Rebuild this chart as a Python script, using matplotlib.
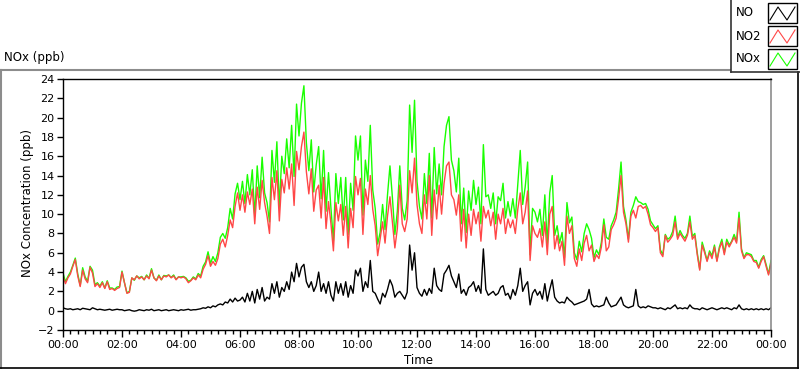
import numpy as np
import matplotlib
matplotlib.use("Agg")
import matplotlib.pyplot as plt
from matplotlib.lines import Line2D
from matplotlib.patches import Rectangle
from matplotlib.ticker import MultipleLocator, FuncFormatter

# mesures toutes les 5 minutes, de 00:00 a 00:00 (ppb)
pas_minutes = 5

no2_ppb = [
    3.6, 2.8, 3.4, 3.8, 4.6, 5.3, 3.6, 2.5, 4.2, 3.3,
    2.9, 4.5, 3.9, 2.5, 2.8, 2.4, 2.9, 2.3, 3.0, 2.2,
    2.3, 2.1, 2.3, 2.4, 4.0, 2.9, 1.8, 1.9, 3.4, 3.2,
    3.6, 3.3, 3.5, 3.2, 3.6, 3.3, 4.2, 3.4, 3.1, 3.6,
    3.2, 3.6, 3.5, 3.7, 3.4, 3.6, 3.2, 3.5,
    3.4, 3.5, 3.3, 2.9, 3.1, 3.4, 3.2, 3.7, 3.4, 4.3,
    4.8, 5.7, 4.6, 5.1, 4.7, 5.4, 6.9, 7.4, 6.6, 7.8,
    9.4, 8.6, 10.8, 12.2, 10.4, 12.0, 10.2, 12.3, 11.0, 12.6,
    9.0, 12.8, 10.5, 13.5, 11.2, 9.8, 8.0, 13.8, 11.5, 14.5,
    9.3, 13.6, 12.2, 14.8, 12.6, 15.2, 10.9, 16.5,
    14.6, 17.0, 18.5, 14.4, 12.1, 14.7, 10.3, 12.5, 13.0, 9.6,
    13.8, 8.5, 11.3, 9.0, 6.2, 11.2, 9.3, 11.0, 7.8, 10.8,
    6.5, 10.6, 8.6, 13.9, 12.0, 13.7, 7.9, 12.6, 11.0, 14.0,
    10.5, 8.8, 5.7, 7.4, 9.2, 7.0, 9.8, 11.8, 9.1, 6.5,
    8.5, 13.0, 9.0, 8.2, 9.5, 14.5, 12.2, 15.8,
    11.0, 9.0, 8.0, 12.0, 9.5, 14.0, 7.8, 12.5, 9.5, 13.0,
    10.0, 13.2, 15.0, 15.4, 12.0, 11.5, 9.9, 12.0, 7.2, 10.5,
    6.5, 10.0, 7.8, 10.5, 9.0, 10.2, 7.2, 10.8, 9.6, 10.4,
    8.8, 10.2, 7.4, 10.0, 9.0, 10.6, 8.0, 9.5, 8.6, 9.4,
    8.0, 10.5, 12.2, 9.0, 10.2, 12.4, 5.2, 8.8,
    8.0, 7.6, 8.5, 6.6, 9.2, 5.8, 10.0, 10.8, 6.4, 7.8,
    6.2, 7.2, 4.7, 9.8, 8.0, 8.8, 5.4, 4.6, 6.4, 5.2,
    7.0, 7.8, 6.2, 6.8, 5.1, 5.8, 5.4, 6.6, 8.9, 6.2,
    6.6, 8.4, 8.9, 9.6, 11.6, 14.0, 10.2, 9.0, 7.1, 9.8,
    10.4, 9.6, 10.8, 10.9, 10.6, 10.8, 10.0, 8.9,
    8.6, 8.2, 8.6, 6.0, 5.6, 7.8, 7.1, 7.4, 7.8, 9.2,
    7.4, 8.0, 7.6, 7.2, 7.8, 9.2, 7.4, 7.8, 5.8, 4.2,
    6.8, 6.0, 5.1, 6.0, 5.4, 6.6, 5.1, 6.4, 7.1, 5.8,
    7.1, 6.6, 7.1, 7.6, 7.0, 9.6, 6.2, 5.4, 5.8, 5.8,
    5.6, 5.1, 5.0, 4.4, 5.1, 5.6, 4.6, 3.7, 4.9,
]

no_ppb = [
    0.3, 0.2, 0.15, 0.2, 0.1, 0.15, 0.2, 0.1, 0.25, 0.2,
    0.15, 0.1, 0.3, 0.2, 0.1, 0.15, 0.1, 0.05, 0.1, 0.15,
    0.05, 0.1, 0.15, 0.1, 0.1, 0.0, 0.05, 0.1, 0.0, -0.05,
    0.0, 0.1, 0.05, 0.0, 0.1, 0.05, 0.15, 0.0, 0.05, 0.1,
    0.0, 0.05, 0.1, 0.0, 0.05, 0.1, 0.05, 0.0,
    0.1, 0.05, 0.1, 0.15, 0.05, 0.1, 0.1, 0.15,
    0.2, 0.3, 0.25, 0.4, 0.3, 0.5, 0.4, 0.6,
    0.7, 0.6, 0.9, 0.8, 1.2, 0.9, 1.3, 1.0,
    1.1, 1.4, 0.9, 1.8, 1.0, 2.0, 0.8, 2.2,
    1.2, 2.4, 1.0, 1.4, 1.2, 2.8, 1.8, 3.0,
    1.4, 2.4, 2.0, 3.0, 2.2, 4.0, 3.0, 4.9,
    3.5, 4.5, 4.8, 3.0, 2.4, 3.0, 2.0, 2.6, 4.0, 2.0,
    2.8, 1.8, 3.0, 1.6, 1.0, 3.0, 1.8, 2.8, 1.6, 3.0,
    1.4, 2.6, 1.8, 4.2, 3.6, 4.4, 2.0, 3.0, 2.4, 5.2,
    2.0, 1.8, 1.2, 0.7, 1.8, 1.4, 2.2, 3.2, 2.6, 1.4,
    1.8, 2.0, 1.6, 1.2, 1.9, 6.8, 4.2, 6.0,
    2.4, 1.8, 1.5, 2.2, 1.6, 2.3, 1.8, 4.4, 2.6, 2.2,
    2.0, 3.8, 4.2, 4.7, 3.6, 3.0, 2.4, 3.8, 1.8, 2.2,
    1.6, 2.4, 2.6, 3.0, 2.0, 2.6, 1.8, 6.4, 2.2, 1.6,
    1.8, 2.0, 1.6, 1.8, 2.4, 2.6, 1.6, 1.8, 1.2, 2.2,
    1.6, 2.6, 4.4, 2.0, 2.6, 3.0, 0.6, 1.8,
    2.2, 1.6, 2.0, 1.2, 2.8, 1.0, 2.2, 3.2, 1.4, 1.0,
    0.8, 0.9, 0.8, 1.4, 1.1, 0.9, 0.6, 0.7, 0.8, 0.9,
    1.0, 1.2, 2.2, 0.7, 0.4, 0.5, 0.4, 0.5, 0.6, 1.4,
    0.8, 0.4, 0.5, 0.6, 1.0, 1.4, 0.6, 0.4, 0.3, 0.4,
    0.5, 2.2, 0.5, 0.3, 0.4, 0.3, 0.5, 0.4,
    0.3, 0.3, 0.2, 0.3, 0.2, 0.1, 0.3, 0.2, 0.4, 0.6,
    0.2, 0.3, 0.2, 0.3, 0.2, 0.6, 0.3, 0.2, 0.2, 0.1,
    0.3, 0.2, 0.1, 0.2, 0.3, 0.2, 0.1, 0.2, 0.3, 0.2,
    0.3, 0.2, 0.1, 0.3, 0.2, 0.6, 0.2, 0.1, 0.2, 0.1,
    0.2, 0.1, 0.2, 0.1, 0.2, 0.1, 0.2, 0.1, 0.3,
]

series_noms = ["NO", "NO2", "NOx"]
series_couleurs = ["black", "#ff4747", "#1aff00"]

W, H = 800, 369


def fx(px):
    return px / W


def fy(py):
    return 1 - py / H


heures = np.arange(len(no2_ppb)) * pas_minutes / 60.0
nox_ppb = np.array(no_ppb) + np.array(no2_ppb)

fig = plt.figure(figsize=(W / 100, H / 100), dpi=100)
fig.patch.set_facecolor("white")
ax = fig.add_axes([fx(63), fy(330), (771 - 63) / W, (330 - 79) / H])

ax.plot(heures, nox_ppb, color=series_couleurs[2], lw=1.0)
ax.plot(heures, no2_ppb, color=series_couleurs[1], lw=1.0)
ax.plot(heures, no_ppb, color=series_couleurs[0], lw=1.0)

ax.set_xlim(0, 24)
ax.set_ylim(-2, 24)
ax.xaxis.set_major_locator(MultipleLocator(2))
ax.xaxis.set_minor_locator(MultipleLocator(0.25))
ax.xaxis.set_major_formatter(FuncFormatter(lambda v, p: "%02d:00" % (int(round(v)) % 24)))
ax.yaxis.set_major_locator(MultipleLocator(2))
ax.tick_params(axis="both", which="major", labelsize=8, length=4, width=1, pad=2, colors="black")
ax.tick_params(axis="x", which="major", length=5)
ax.tick_params(axis="x", which="minor", length=3, width=1)
for s in ["left", "bottom", "top"]:
    ax.spines[s].set_color("black")
    ax.spines[s].set_linewidth(1)
ax.spines["right"].set_color("#8c8c8c")
ax.spines["right"].set_linewidth(1.2)

fig.text(fx(418), fy(360), "Time", ha="center", va="center", fontsize=8.5)
fig.text(fx(27), fy(203), "NOx Concentration (ppb)", rotation=90,
         ha="center", va="center", fontsize=8.5)
fig.text(fx(4), fy(58), "NOx (ppb)", ha="left", va="center", fontsize=8.5)

# cadre exterieur
gris = "#8c8c8c"
fig.add_artist(Line2D([fx(0), fx(730)], [fy(69.5), fy(69.5)], color=gris, lw=1.5))
fig.add_artist(Line2D([fx(0.8), fx(0.8)], [fy(69.5), fy(368)], color=gris, lw=1.5))
fig.add_artist(Line2D([fx(0), fx(798)], [fy(367.5), fy(367.5)], color="black", lw=1.2))
fig.add_artist(Line2D([fx(797.5), fx(797.5)], [fy(72), fy(368)], color="black", lw=1.2))

# legende
fig.add_artist(Line2D([fx(730.5), fx(730.5)], [fy(0), fy(72)], color="#333333", lw=1.2))
fig.add_artist(Line2D([fx(730.5), fx(800)], [fy(71.5), fy(71.5)], color="#333333", lw=1.2))
for k, (nom, coul) in enumerate(zip(series_noms, series_couleurs)):
    yc = 13 + 23 * k
    fig.text(fx(736), fy(yc), nom, ha="left", va="center", fontsize=8.5)
    fig.add_artist(Rectangle((fx(768), fy(yc + 10)), 29 / W, 20 / H,
                             facecolor="white", edgecolor="black", lw=1.0))
    zx = [770, 778, 787, 795]
    zy = [yc + 7, yc - 6, yc + 7, yc - 6]
    fig.add_artist(Line2D([fx(v) for v in zx], [fy(v) for v in zy], color=coul, lw=0.8))

fig.savefig("out.png", dpi=100)
